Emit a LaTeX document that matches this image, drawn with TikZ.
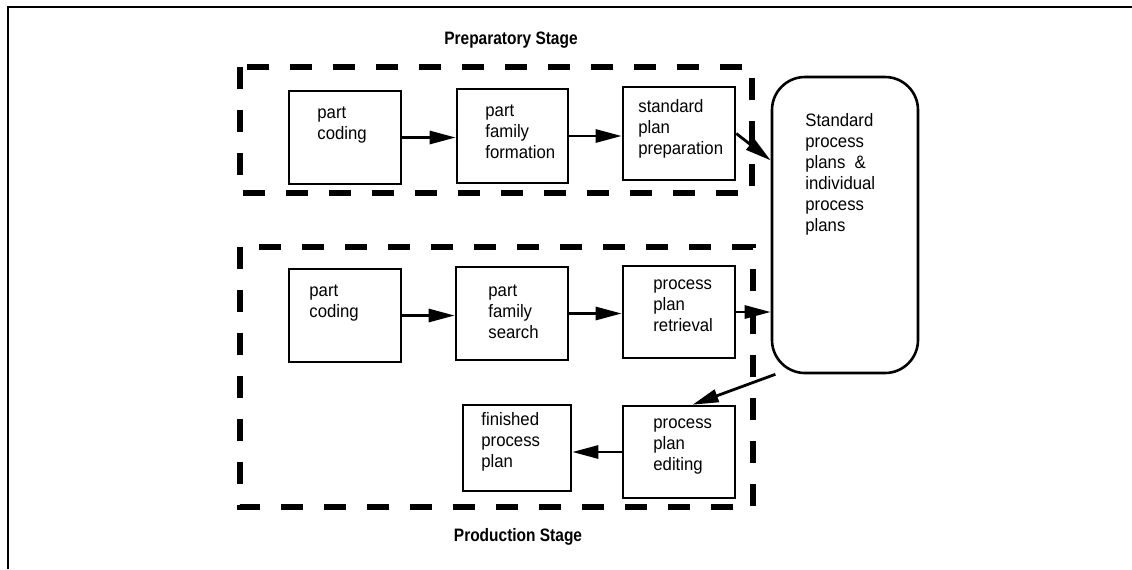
\documentclass[tikz,border=0pt]{standalone}
\usepackage{fontspec}
\setmainfont{Liberation Sans}[FakeStretch=0.93]
\newfontfamily\stagefont{Liberation Sans}[FakeStretch=0.86]
\usetikzlibrary{arrows.meta}

\tikzset{
  procbox/.style={draw, line width=1.3pt, inner sep=0pt},
  txt/.style={anchor=north west, inner sep=0pt, align=left, font=\fontsize{9}{10.5}\selectfont},
  stagebox/.style={line width=2.6pt, dash pattern=on 11pt off 10.5pt},
  stagetitle/.style={inner sep=0pt, font=\stagefont\bfseries\fontsize{9}{10.5}\selectfont},
  arr/.style={line width=1.4pt, -{Triangle[length=13pt,width=6.5pt]}}
}

\begin{document}
\begin{tikzpicture}[x=0.5pt,y=-0.5pt]
  \useasboundingbox (0,0) rectangle (1132,569);

  % outer frame
  \draw[line width=1pt] (8,569) -- (8,7) -- (1132,7);

  % the two stages
  \draw[stagebox] (240,67) rectangle (752,193);
  \draw[stagebox] (240,247) rectangle (753,507);
  \node[stagetitle] (prep) at (511,40) {Preparatory Stage};
  \node[stagetitle] (prod) at (518,537) {Production Stage};

  % preparatory stage
  \node[procbox, minimum width=56pt, minimum height=46.5pt] (A1) at (345,137.5) {};
  \node[procbox, minimum width=55.5pt, minimum height=47pt] (B1) at (512.5,136) {};
  \node[procbox, minimum width=56pt, minimum height=46.5pt] (C1) at (679,133.5) {};
  \node[txt] (A1t) at (317,106) {part\\coding};
  \node[txt] (B1t) at (485,104) {part\\family\\formation};
  \node[txt] (C1t) at (638,99) {standard\\plan\\preparation};

  % plan storage
  \node[procbox, rounded corners=16.5pt, minimum width=73pt, minimum height=148pt] (S) at (845,225) {};
  \node[txt] (St) at (805,113) {Standard\\process\\plans~~\&\\individual\\process\\plans};

  % production stage
  \node[procbox, minimum width=56pt, minimum height=46.5pt] (A2) at (345,315.5) {};
  \node[procbox, minimum width=56pt, minimum height=46.5pt] (B2) at (512,313.5) {};
  \node[procbox, minimum width=56pt, minimum height=46pt] (C2) at (679,312) {};
  \node[procbox, minimum width=56pt, minimum height=46pt] (E) at (679,452) {};
  \node[procbox, minimum width=54pt, minimum height=43pt] (F) at (517,448) {};
  \node[txt] (A2t) at (309,284) {part\\coding};
  \node[txt] (B2t) at (488,284) {part\\family\\search};
  \node[txt] (C2t) at (653,279) {process\\plan\\retrieval};
  \node[txt] (Et) at (653,418) {process\\plan\\editing};
  \node[txt] (Ft) at (481,412) {finished\\process\\plan};

  % flow
  \draw[arr] (A1.east) -- (A1.east -| B1.west);
  \draw[arr] (B1.east) -- (B1.east -| C1.west);
  \draw[arr] (C1.east) -- (S.139);
  \draw[arr] (A2.east) -- (A2.east -| B2.west);
  \draw[arr] (B2.east) -- (B2.east -| C2.west);
  \draw[arr] (C2.east) -- (C2.east -| S.west);
  \draw[arr] (S.245) -- (E.74);
  \draw[arr] (E.west) -- (E.west -| F.east);
\end{tikzpicture}
\end{document}
